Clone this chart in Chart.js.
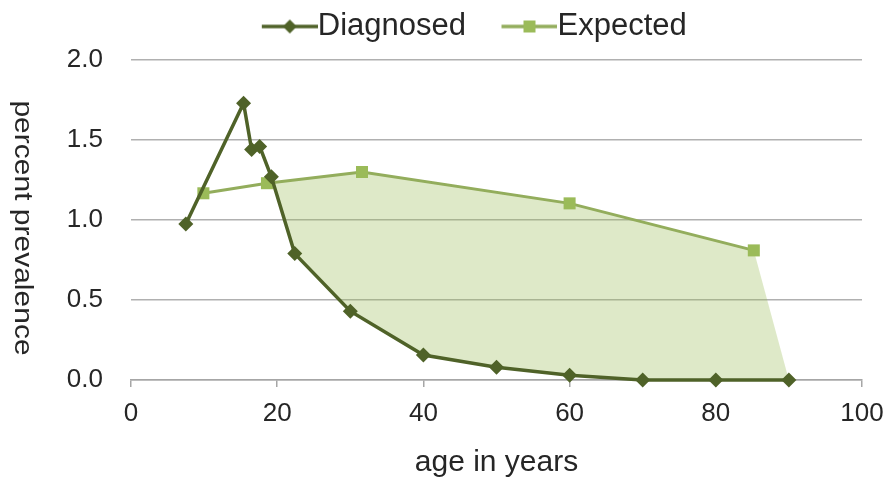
<!DOCTYPE html>
<html><head><meta charset="utf-8">
<script src="https://cdn.jsdelivr.net/npm/chart.js@4"></script>
<style>html,body{margin:0;padding:0;background:#fff}#wrap{width:892px;height:478px;position:relative}</style>
</head><body><div id="wrap"><canvas id="c"></canvas></div>
<script>
// ---- data ----
const diagnosedAges   = [7.5, 15.4, 16.5, 17.6, 19.2, 22.4, 30, 40, 50, 60, 70, 80, 90];
const diagnosedValues = [0.975, 1.73, 1.44, 1.46, 1.27, 0.79, 0.43, 0.156, 0.08, 0.03, 0, 0, 0];
const expectedAges    = [9.9, 18.6, 31.6, 60, 85.2];
const expectedValues  = [1.167, 1.23, 1.30, 1.104, 0.81];
const crossingPoint   = [19.44, 1.235];   // where the two curves meet, start of the shaded gap
const xTickValues = [0, 20, 40, 60, 80, 100];
const yTickValues = [0, 0.5, 1.0, 1.5, 2.0];
const seriesNames = ['Diagnosed', 'Expected'];
const xTitle = 'age in years';
const yTitle = 'percent prevalence';

const DARK = '#4f6228', LIGHT = '#9bbb59', LIGHT_LINE = '#93ad5c';
const FONT = '"Liberation Sans", Arial, sans-serif';
const TEXT = '#262626';

const toPts = (xs, ys) => xs.map((x, i) => ({x, y: ys[i]}));
const diagPts = toPts(diagnosedAges, diagnosedValues);
const expPts = toPts(expectedAges, expectedValues);
// shaded gap polygon: along Expected above the crossing, back along Diagnosed
const gapPts = [{x: crossingPoint[0], y: crossingPoint[1]}]
  .concat(expPts.filter(p => p.x > crossingPoint[0]))
  .concat(diagPts.filter(p => p.x > crossingPoint[0]).reverse())
  .concat([{x: crossingPoint[0], y: crossingPoint[1]}]);

function legendImage(lineColor, markColor, shape) {
  const W = 97, H = 18, vis = 56;
  const c = document.createElement('canvas');
  c.width = W; c.height = H;
  const g = c.getContext('2d');
  const x0 = W - vis, cy = H / 2, cx = x0 + vis / 2;
  g.strokeStyle = lineColor; g.lineWidth = 3.5;
  g.beginPath(); g.moveTo(x0, cy); g.lineTo(W, cy); g.stroke();
  g.fillStyle = markColor;
  g.beginPath();
  if (shape === 'diamond') {
    const r = 7;
    g.moveTo(cx, cy - r); g.lineTo(cx + r, cy); g.lineTo(cx, cy + r); g.lineTo(cx - r, cy); g.closePath();
  } else {
    const s = 6; g.rect(cx - s, cy - s, 2 * s, 2 * s);
  }
  g.fill();
  return c;
}
const legendImgs = [legendImage(DARK, DARK, 'diamond'), legendImage(LIGHT_LINE, LIGHT, 'square')];

const yTitlePlugin = {
  id: 'yTitle',
  afterLayout(chart) {
    const lg = chart.legend;
    if (lg) { const h = lg.bottom - lg.top; lg.top = 1; lg.bottom = lg.top + h; }
  },
  afterDraw(chart) {
    const {ctx} = chart;
    ctx.save();
    ctx.translate(22, 228);
    ctx.rotate(Math.PI / 2);
    ctx.scale(1, 0.88);
    ctx.font = '30px ' + FONT;
    ctx.fillStyle = TEXT;
    ctx.textAlign = 'center';
    ctx.textBaseline = 'middle';
    ctx.fillText(yTitle, 0, 0);
    ctx.restore();
  }
};

new Chart(document.getElementById('c'), {
  type: 'line',
  data: {
    datasets: [
      {
        label: seriesNames[0], data: diagPts, borderColor: DARK, backgroundColor: DARK,
        borderWidth: 3.5, pointStyle: 'rectRot', pointRadius: 7.5, pointBorderWidth: 0,
        pointBackgroundColor: DARK, fill: false, order: 1, clip: false, tension: 0
      },
      {
        label: seriesNames[1], data: expPts, borderColor: LIGHT_LINE, backgroundColor: LIGHT,
        borderWidth: 3, pointStyle: 'rect', pointRadius: 8.5, pointBorderWidth: 0,
        pointBackgroundColor: LIGHT, fill: false, order: 2, clip: false, tension: 0
      },
      {
        label: 'gap', data: gapPts, borderWidth: 0, borderColor: 'rgba(0,0,0,0)',
        backgroundColor: 'rgba(155,187,89,0.33)', pointRadius: 0, fill: 'shape', order: 3, tension: 0
      }
    ]
  },
  options: {
    responsive: true, maintainAspectRatio: false, animation: false,
    layout: {padding: {left: 31, right: 0, top: 0, bottom: 0}},
    plugins: {
      tooltip: {enabled: false},
      legend: {
        position: 'top', align: 'center',
        labels: {
          usePointStyle: true, pointStyleWidth: 66, padding: 10,
          font: {size: 31, family: FONT}, color: TEXT,
          generateLabels: () => seriesNames.map((t, i) => ({
            text: t, datasetIndex: i, pointStyle: legendImgs[i], fillStyle: 'rgba(0,0,0,0)',
            strokeStyle: 'rgba(0,0,0,0)', lineWidth: 0, hidden: false, fontColor: TEXT
          }))
        }
      }
    },
    scales: {
      x: {
        type: 'linear', min: 0, max: 100,
        afterBuildTicks: s => { s.ticks = xTickValues.map(v => ({value: v})); },
        ticks: {font: {size: 26, family: FONT}, color: TEXT, padding: 11, maxRotation: 0},
        grid: {display: true, drawOnChartArea: false, drawTicks: true, tickLength: 7, color: '#a6a6a6', lineWidth: 1.5},
        border: {display: true, color: '#a6a6a6', width: 1.5},
        title: {display: true, text: xTitle, font: {size: 30, family: FONT}, color: TEXT, padding: {top: 0, bottom: -3}},
        afterFit: s => { s.height = 98; s.paddingRight = 30; s.paddingLeft = 0; }
      },
      y: {
        min: 0, max: 2,
        afterBuildTicks: s => { s.ticks = yTickValues.map(v => ({value: v})); },
        ticks: {font: {size: 26, family: FONT}, color: TEXT, padding: 28, callback: v => Number(v).toFixed(1)},
        grid: {color: '#b0b0b0', lineWidth: 1.5, drawTicks: false},
        border: {display: false},
        afterFit: s => { s.width = 100; s.paddingTop = 60; }
      }
    }
  },
  plugins: [yTitlePlugin]
});
</script>
</body></html>
